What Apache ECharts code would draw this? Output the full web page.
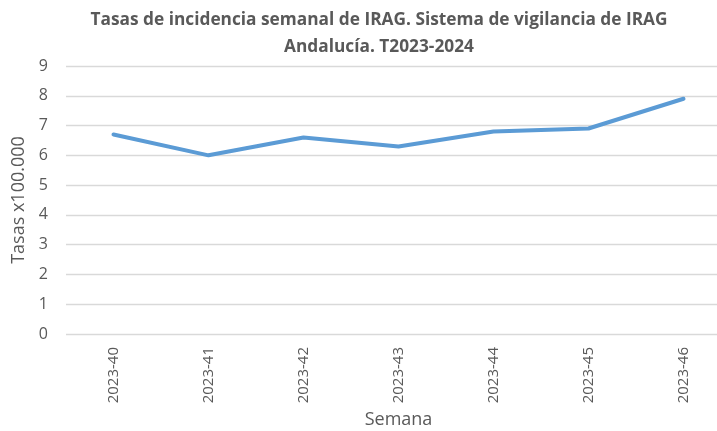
<!DOCTYPE html>
<html><head><meta charset="utf-8">
<script src="https://cdn.jsdelivr.net/npm/echarts@6/dist/echarts.min.js"></script>
<style>html,body{margin:0;padding:0;background:#fff}#c{width:717px;height:431px}</style>
</head><body><div id="c"></div>
<script>
const categories = ['2023-40','2023-41','2023-42','2023-43','2023-44','2023-45','2023-46'];
const tasas = [6.7, 6.0, 6.6, 6.3, 6.8, 6.9, 7.9];
const titleLines = ['Tasas de incidencia semanal de IRAG. Sistema de vigilancia de IRAG', 'Andalucía. T2023-2024'];

const chart = echarts.init(document.getElementById('c'), null, {renderer:'canvas'});
const txt = '#595959';
chart.setOption({
  animation:false,
  title:{text:titleLines.join('\n'), left: 374, textAlign:'center', top:2,
    textStyle:{fontFamily:'Open Sans', fontWeight:'bold', fontSize:17.3, color:txt, lineHeight:27}},
  grid:{left:66, right:-14, top:66, bottom:97, containLabel:false, outerBoundsMode:'none'},
  xAxis:{type:'category', data:categories, boundaryGap:true,
    name:'Semana', nameLocation:'middle', nameGap:76,
    nameTextStyle:{fontFamily:'Open Sans', fontSize:18, color:txt},
    axisLine:{show:false}, axisTick:{show:false},
    axisLabel:{rotate:90, margin:13, fontFamily:'Open Sans', fontSize:15, color:txt}},
  yAxis:{type:'value', min:0, max:9, interval:1,
    name:'Tasas x100.000', nameLocation:'middle', nameGap:32,
    nameTextStyle:{fontFamily:'Open Sans', fontSize:18, color:txt},
    axisLine:{show:false}, axisTick:{show:false},
    axisLabel:{margin:18, fontFamily:'Open Sans', fontSize:16, color:txt},
    splitLine:{lineStyle:{color:'#d9d9d9', width:1.3}}},
  series:[{type:'line', data:tasas, symbol:'none',
    lineStyle:{color:'#5b9bd5', width:4, cap:'round', join:'round'}}]
});
</script></body></html>
